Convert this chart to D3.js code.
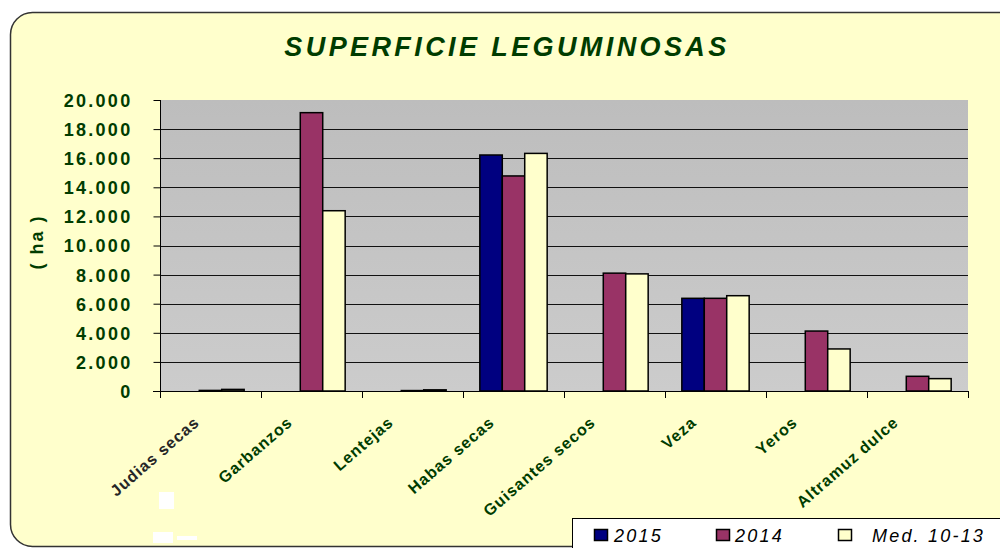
<!DOCTYPE html>
<html>
<head>
<meta charset="utf-8">
<script src="https://cdn.jsdelivr.net/npm/d3@7"></script>
<style>
  body { margin: 0; background: #fff; }
  svg { display: block; font-family: "Liberation Sans", Arial, sans-serif; }
</style>
</head>
<body>
<div id="chart"></div>
<script>
const categories = ["Judias secas", "Garbanzos", "Lentejas", "Habas secas", "Guisantes secos", "Veza", "Yeros", "Altramuz dulce"];
const seriesNames = ["2015", "2014", "Med. 10-13"];
const values2015 = [null, null, null, 16220, null, 6370, null, null];
const values2014 = [40, 19130, 30, 14780, 8100, 6370, 4120, 1010];
const valuesMed = [110, 12390, 80, 16330, 8050, 6550, 2890, 850];
const yTicks = [0, 2000, 4000, 6000, 8000, 10000, 12000, 14000, 16000, 18000, 20000];
const colors = ["#000080", "#993366", "#ffffcc"];

const series = [values2015, values2014, valuesMed];
const green = "#003c00";

const svg = d3.select("#chart").append("svg")
    .attr("width", 1000)
    .attr("height", 548);

// chart background with rounded corners
svg.append("rect")
    .attr("x", 10.5).attr("y", 12.5)
    .attr("width", 1010).attr("height", 534)
    .attr("rx", 22).attr("ry", 22)
    .attr("fill", "#ffffcc")
    .attr("stroke", "#333")
    .attr("stroke-width", 1.5);

const defs = svg.append("defs");
const grad = defs.append("linearGradient")
    .attr("id", "plotbg")
    .attr("x1", 0).attr("y1", 0).attr("x2", 0).attr("y2", 1);
grad.append("stop").attr("offset", "0%").attr("stop-color", "#bdbdbd");
grad.append("stop").attr("offset", "100%").attr("stop-color", "#cccccc");

const x0 = d3.scaleBand().domain(categories).range([160, 968]);
const x1 = d3.scaleBand().domain(seriesNames)
    .range([0, x0.bandwidth()]).paddingOuter(0.75);
const y = d3.scaleLinear().domain([0, 20000]).range([391, 100]);

svg.append("rect")
    .attr("x", 160).attr("y", 100)
    .attr("width", 808).attr("height", 291)
    .attr("fill", "url(#plotbg)");

// gridlines
svg.append("g")
    .selectAll("line")
    .data(yTicks.slice(1, -1))
    .enter().append("line")
    .attr("x1", 160).attr("x2", 968)
    .attr("y1", d => Math.round(y(d)) + 0.5)
    .attr("y2", d => Math.round(y(d)) + 0.5)
    .attr("stroke", "#111")
    .attr("stroke-width", 1);

// bars
const groups = svg.append("g")
    .selectAll("g")
    .data(categories)
    .enter().append("g")
    .attr("transform", d => "translate(" + x0(d) + ",0)");

groups.selectAll("rect")
    .data((d, i) => seriesNames.map((s, k) => ({s: s, k: k, v: series[k][i]})).filter(e => e.v !== null))
    .enter().append("rect")
    .attr("x", d => x1(d.s))
    .attr("width", x1.bandwidth())
    .attr("y", d => y(d.v))
    .attr("height", d => y(0) - y(d.v))
    .attr("fill", d => colors[d.k])
    .attr("stroke", "#000")
    .attr("stroke-width", 1.5);

// y axis
const yAxis = d3.axisLeft(y)
    .tickValues(yTicks)
    .tickSize(7)
    .tickFormat(d => d3.format(",")(d).replace(/,/g, "."));

const yg = svg.append("g")
    .attr("transform", "translate(160.5,0)")
    .call(yAxis);
yg.select(".domain").attr("stroke", "#000").attr("d", "M0,100V391.5");
yg.selectAll(".tick line").attr("stroke", "#000");
yg.selectAll(".tick text")
    .attr("x", -28)
    .attr("dy", "0.36em")
    .attr("fill", green)
    .style("font-size", "18px")
    .style("font-weight", "bold")
    .style("letter-spacing", "2.3px");

// x axis
const xAxis = d3.axisBottom(x0).tickSize(0).tickFormat("");
const xg = svg.append("g")
    .attr("transform", "translate(0,391.5)")
    .call(xAxis);
xg.select(".domain").attr("stroke", "#000").attr("d", "M153,0H968");

svg.append("g")
    .selectAll("line")
    .data(d3.range(categories.length + 1))
    .enter().append("line")
    .attr("x1", i => Math.round(160 + i * x0.bandwidth()) + 0.5)
    .attr("x2", i => Math.round(160 + i * x0.bandwidth()) + 0.5)
    .attr("y1", 391).attr("y2", 398)
    .attr("stroke", "#000");

svg.append("g")
    .selectAll("text")
    .data(categories)
    .enter().append("text")
    .attr("transform", (d, i) => "translate(" + (x0(d) + x0.bandwidth() / 2 - (i === 0 ? 10 : 18)) + ",424) rotate(-41)")
    .attr("text-anchor", "end")
    .attr("fill", (d, i) => i === 0 ? "#262626" : green)
    .style("font-size", "16px")
    .style("font-weight", "bold")
    .style("letter-spacing", "1px")
    .text(d => d);

// title
svg.append("text")
    .attr("x", 507).attr("y", 56)
    .attr("text-anchor", "middle")
    .attr("fill", green)
    .style("font-size", "27px")
    .style("font-weight", "bold")
    .style("font-style", "italic")
    .style("letter-spacing", "3.4px")
    .text("SUPERFICIE LEGUMINOSAS");

// y label
svg.append("text")
    .attr("transform", "translate(43,242) rotate(-90)")
    .attr("text-anchor", "middle")
    .attr("fill", green)
    .style("font-size", "18px")
    .style("font-weight", "bold")
    .style("letter-spacing", "2px")
    .text("( ha )");

// small white marks
svg.append("rect").attr("x", 159).attr("y", 492).attr("width", 15).attr("height", 17).attr("fill", "#fff");
svg.append("rect").attr("x", 153).attr("y", 532).attr("width", 20).attr("height", 11).attr("fill", "#fff");
svg.append("rect").attr("x", 177).attr("y", 536).attr("width", 20).attr("height", 4).attr("fill", "#fff");

// legend
const legend = svg.append("g");
legend.append("rect")
    .attr("x", 572.5).attr("y", 518.5)
    .attr("width", 440).attr("height", 40)
    .attr("fill", "#fff")
    .attr("stroke", "#000");

const legendX = [594, 716, 838];
const textX = [614, 735, 872];
seriesNames.forEach((s, k) => {
    legend.append("rect")
        .attr("x", legendX[k] + 0.5).attr("y", 529.5)
        .attr("width", 13).attr("height", 11)
        .attr("fill", colors[k])
        .attr("stroke", "#000")
        .attr("stroke-width", 1.5);
    legend.append("text")
        .attr("x", textX[k]).attr("y", 542)
        .attr("fill", "#000")
        .style("font-size", "18px")
        .style("font-style", "italic")
        .style("letter-spacing", "2.2px")
        .text(s);
});
</script>
</body>
</html>
